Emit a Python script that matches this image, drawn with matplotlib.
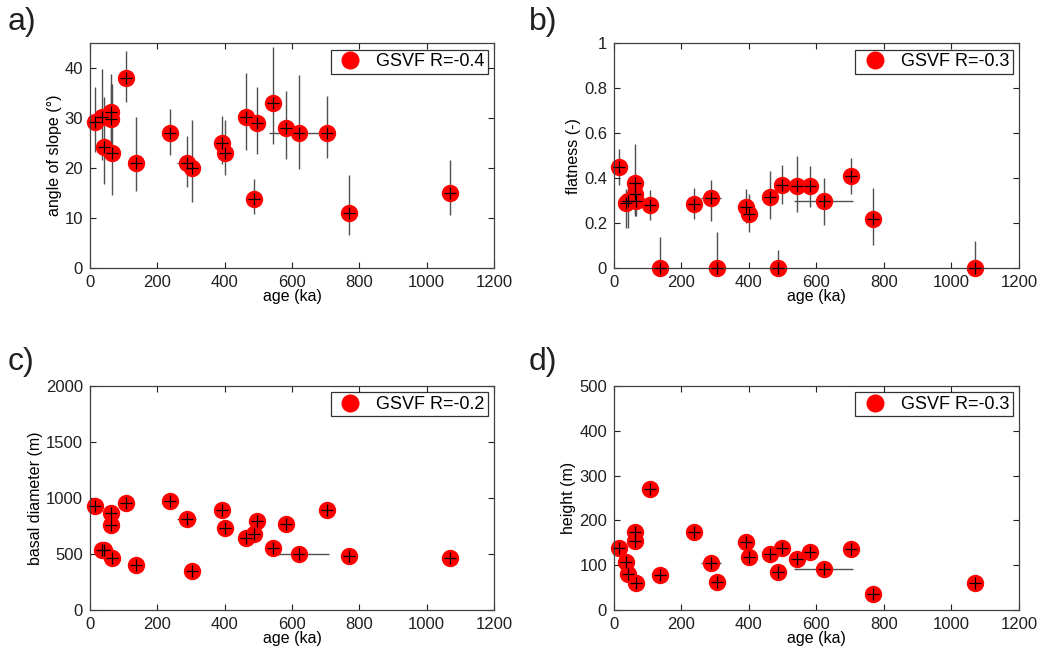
"""
Morphometric parameters of GSVF cones versus age: four-panel scatter with error bars.
"""

import matplotlib

matplotlib.use("Agg")
import matplotlib.pyplot as plt
from matplotlib.lines import Line2D
import numpy as np

# ages shared by all panels (ka)
AGE = [15, 35, 42, 61, 61, 64, 106, 136, 238, 287, 304, 391, 401, 463,
       487, 497, 543, 581, 621, 703, 768, 1070]
AGE_XERR = [0, 0, 0, 0, 0, 0, 0, 0, 0, 29, 0, 0, 0, 0,
            0, 0, 0, 0, 88, 0, 0, 0]

SLOPE = [29.2, 30.2, 24.2, 31.2, 29.9, 23.0, 38.1, 21.0, 27.0, 21.0, 20.1, 25.0,
         23.0, 30.2, 13.9, 29.1, 33.1, 28.1, 27.0, 27.0, 11.0, 15.0]
SLOPE_LO = [23.2, 21.6, 16.9, 25.0, 22.0, 14.6, 33.2, 15.4, 22.6, 16.2, 13.3, 20.9,
            18.6, 23.6, 10.9, 22.9, 24.8, 21.9, 19.9, 22.1, 6.6, 10.6]
SLOPE_HI = [36.2, 39.9, 34.2, 38.9, 36.9, 36.9, 43.5, 30.3, 31.9, 26.5, 29.7, 30.5,
            29.7, 39.1, 17.9, 36.2, 44.2, 35.4, 38.7, 34.5, 18.6, 21.6]

FLATNESS = [0.45, 0.29, 0.30, 0.33, 0.38, 0.30, 0.28, 0.0, 0.286, 0.31, 0.0, 0.27,
            0.24, 0.315, 0.0, 0.367, 0.363, 0.363, 0.30, 0.41, 0.218, 0.0]
FLATNESS_LO = [0.37, 0.18, 0.18, 0.23, 0.24, 0.23, 0.215, 0.0, 0.22, 0.21, 0.0, 0.20,
               0.16, 0.22, 0.0, 0.285, 0.25, 0.27, 0.19, 0.33, 0.10, 0.0]
FLATNESS_HI = [0.53, 0.35, 0.37, 0.42, 0.55, 0.38, 0.348, 0.14, 0.355, 0.39, 0.16, 0.35,
               0.33, 0.43, 0.08, 0.46, 0.50, 0.455, 0.40, 0.49, 0.355, 0.12]

DIAMETER = [928, 537, 531, 866, 761, 460, 955, 403, 970, 815, 352, 889,
            731, 642, 680, 791, 552, 767, 501, 889, 483, 463]
HEIGHT = [139, 108, 80, 173, 155, 61, 271, 78, 174, 104, 62, 151,
          119, 125, 84, 138, 114, 129, 91, 136, 36, 61]

R_VALUES = ["-0.4", "-0.3", "-0.2", "-0.3"]

ERR_COLOR = "#505050"
FONT = ["Liberation Sans", "DejaVu Sans"]


def style_axes(ax, ylim, yticks, yticklabels, ylabel):
    ax.set_xlim(0, 1200)
    ax.set_xticks(np.arange(0, 1201, 200))
    ax.set_ylim(*ylim)
    ax.set_yticks(yticks)
    ax.set_yticklabels(yticklabels)
    ax.set_xlabel("age (ka)", fontsize=11.5, labelpad=-1)
    ax.set_ylabel(ylabel, fontsize=11.5, labelpad=2)
    ax.tick_params(direction="in", top=True, right=True, length=4, width=0.8,
                   labelsize=12, colors="#202020", pad=5)
    for spine in ax.spines.values():
        spine.set_color("#404040")
        spine.set_linewidth(0.9)


def draw_panel(ax, values, lo=None, hi=None, r_text=""):
    x = np.asarray(AGE, dtype=float)
    y = np.asarray(values, dtype=float)
    yerr = None
    if lo is not None:
        yerr = np.vstack([y - np.asarray(lo), np.asarray(hi) - y])
    ax.errorbar(x, y, yerr=yerr, xerr=np.asarray(AGE_XERR, dtype=float), fmt="none",
                ecolor=ERR_COLOR, elinewidth=1.0, capsize=0, zorder=1, clip_on=True)
    ax.plot(x, y, "o", ms=11.5, color="#ff0000", mec="#ff0000", zorder=2, clip_on=False)
    ax.plot(x, y, "+", ms=9, mew=0.9, color="black", zorder=3, clip_on=False)
    handle = Line2D([], [], ls="none", marker="o", ms=12, color="#ff0000")
    leg = ax.legend([handle], [f"GSVF R={r_text}"], loc="upper right", fontsize=13,
                    frameon=True, fancybox=False, borderpad=0.2, handletextpad=0.5,
                    borderaxespad=0.35, handlelength=1.8)
    leg.get_frame().set_edgecolor("black")
    leg.get_frame().set_linewidth(0.9)


def main():
    plt.rcParams["font.family"] = FONT
    fig = plt.figure(figsize=(10.41, 6.61), dpi=100)

    ax_a = fig.add_axes([0.0865, 0.5946, 0.388, 0.340])
    ax_b = fig.add_axes([0.5898, 0.5946, 0.389, 0.340])
    ax_c = fig.add_axes([0.0865, 0.0772, 0.388, 0.339])
    ax_d = fig.add_axes([0.5898, 0.0772, 0.389, 0.339])

    draw_panel(ax_a, SLOPE, SLOPE_LO, SLOPE_HI, R_VALUES[0])
    style_axes(ax_a, (0, 45), np.arange(0, 41, 10), [str(v) for v in range(0, 41, 10)],
               "angle of slope (°)")

    draw_panel(ax_b, FLATNESS, FLATNESS_LO, FLATNESS_HI, R_VALUES[1])
    style_axes(ax_b, (0, 1), np.arange(0, 1.01, 0.2),
               ["0", "0.2", "0.4", "0.6", "0.8", "1"], "flatness (-)")

    draw_panel(ax_c, DIAMETER, r_text=R_VALUES[2])
    style_axes(ax_c, (0, 2000), np.arange(0, 2001, 500),
               [str(v) for v in range(0, 2001, 500)], "basal diameter (m)")

    draw_panel(ax_d, HEIGHT, r_text=R_VALUES[3])
    style_axes(ax_d, (0, 500), np.arange(0, 501, 100),
               [str(v) for v in range(0, 501, 100)], "height (m)")

    for label, (fx, fy) in zip(["a)", "b)", "c)", "d)"],
                               [(0.007, 0.99), (0.508, 0.99), (0.007, 0.475), (0.508, 0.475)]):
        fig.text(fx, fy, label, fontsize=23, va="top", ha="left", color="#202020")

    fig.savefig("out.png", dpi=100)
    plt.close(fig)


if __name__ == "__main__":
    main()
